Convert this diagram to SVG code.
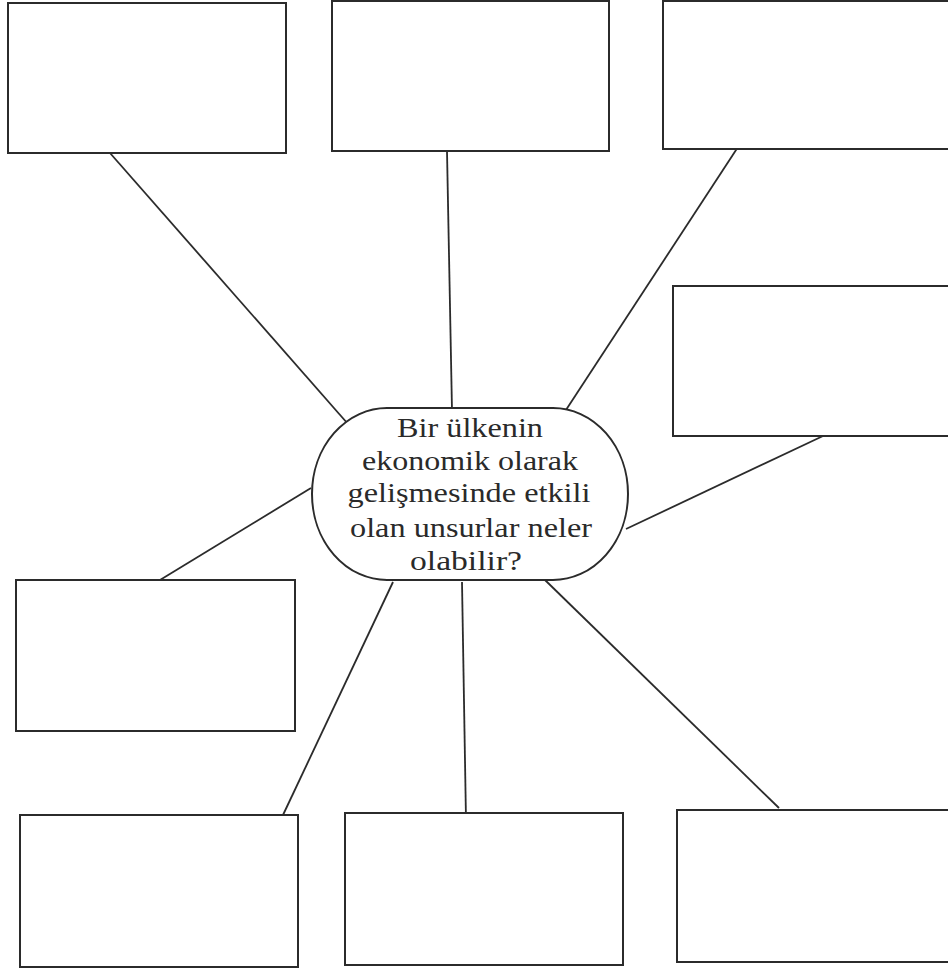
<svg xmlns="http://www.w3.org/2000/svg" width="948" height="970" viewBox="0 0 948 970">
<style>
.box{fill:#fff;stroke:#2b2b2b;stroke-width:2}
.ln{stroke:#2b2b2b;stroke-width:1.8;fill:none}
.t{font-family:"Liberation Serif","Times New Roman",serif;font-size:27px;fill:#2a2a2a;text-anchor:middle}
</style>
<rect width="948" height="970" fill="#fff"/>
<g id="connectors">
<line class="ln" x1="110" y1="153" x2="348" y2="424"/>
<line class="ln" x1="447" y1="151" x2="452" y2="410"/>
<line class="ln" x1="738" y1="147" x2="564" y2="413"/>
<line class="ln" x1="823" y1="436" x2="626" y2="529"/>
<line class="ln" x1="311" y1="488" x2="160" y2="580"/>
<line class="ln" x1="393" y1="582" x2="283" y2="815"/>
<line class="ln" x1="462" y1="582" x2="466" y2="820"/>
<line class="ln" x1="545" y1="580" x2="779" y2="808"/>
</g>
<g id="box1"><rect class="box" x="8" y="3" width="278" height="150"/></g>
<g id="box2"><rect class="box" x="332" y="1" width="277" height="150"/></g>
<g id="box3"><rect class="box" x="663" y="1" width="290" height="148"/></g>
<g id="box4"><rect class="box" x="673" y="286" width="280" height="150"/></g>
<g id="box5"><rect class="box" x="16" y="580" width="279" height="151"/></g>
<g id="box6"><rect class="box" x="20" y="815" width="278" height="152"/></g>
<g id="box7"><rect class="box" x="345" y="813" width="278" height="152"/></g>
<g id="box8"><rect class="box" x="677" y="810" width="276" height="152"/></g>
<g id="center">
<rect class="box" x="312" y="408" width="316" height="172" rx="75" ry="86"/>
<text class="t" x="470" y="437" textLength="146" lengthAdjust="spacingAndGlyphs">Bir ülkenin</text>
<text class="t" x="470" y="470" textLength="216" lengthAdjust="spacingAndGlyphs">ekonomik olarak</text>
<text class="t" x="469" y="502" textLength="243" lengthAdjust="spacingAndGlyphs">gelişmesinde etkili</text>
<text class="t" x="471" y="537" textLength="242" lengthAdjust="spacingAndGlyphs">olan unsurlar neler</text>
<text class="t" x="466" y="570" textLength="112" lengthAdjust="spacingAndGlyphs">olabilir?</text>
</g>
</svg>
